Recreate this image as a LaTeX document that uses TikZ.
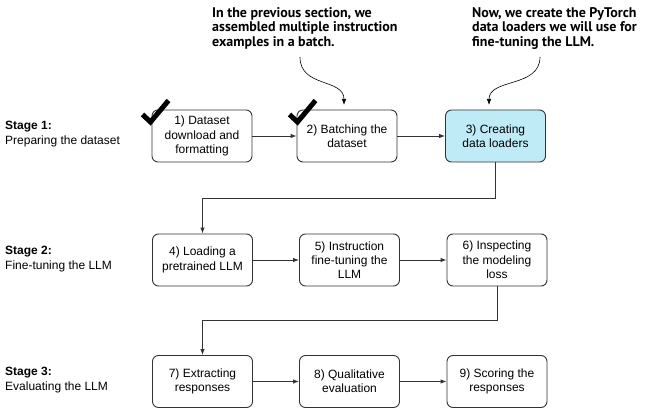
\documentclass[tikz,border=0pt]{standalone}
\usepackage{fontspec}
\setmainfont{Liberation Sans}
\newfontfamily\annotfont{PT Sans}
\usetikzlibrary{arrows.meta}
\definecolor{boxline}{HTML}{333333}
\definecolor{hilite}{HTML}{BFEBF6}
\tikzset{
  stepbox/.style={draw=boxline, line width=0.9pt, rounded corners=6pt, minimum width=100pt, minimum height=52pt, align=center, font=\fontsize{12}{14.3}\selectfont, inner sep=0pt},
  flow/.style={draw=boxline, line width=0.9pt, -{Latex[length=6pt,width=4.5pt]}},
  stagelbl/.style={anchor=west, align=left, font=\fontsize{12}{15}\selectfont, inner sep=0pt},
  annot/.style={anchor=north west, align=left, font=\annotfont\bfseries\fontsize{14}{14.5}\selectfont, inner sep=0pt},
  callout/.style={draw=black, line width=0.6pt, -{Latex[length=6pt,width=4.5pt]}},
  tick/.style={draw=black, line width=5pt, line join=miter}
}
\begin{document}
\begin{tikzpicture}[x=1pt,y=-1pt]
\useasboundingbox (0,0) rectangle (648,417);
% row 1
\node[stepbox] (b1) at (202,136) {1) Dataset\\download and\\formatting};
\node[stepbox] (b2) at (347,136) {2) Batching the\\dataset};
\node[stepbox, fill=hilite] (b3) at (495.5,136) {3) Creating\\data loaders};
% row 2
\node[stepbox] (b4) at (202.5,260) {4) Loading a\\pretrained LLM};
\node[stepbox] (b5) at (349.5,260) {5) Instruction\\fine-tuning the\\LLM};
\node[stepbox] (b6) at (497,260) {6) Inspecting\\the modeling\\loss};
% row 3
\node[stepbox] (b7) at (202.5,381.5) {7) Extracting\\responses};
\node[stepbox] (b8) at (349.5,381.5) {8) Qualitative\\evaluation};
\node[stepbox] (b9) at (497,381.5) {9) Scoring the\\responses};
% stage labels
\node[stagelbl] (s1) at (5,134.5) {\textbf{Stage 1:}\\Preparing the dataset};
\node[stagelbl] (s2) at (5,259.5) {\textbf{Stage 2:}\\Fine-tuning the LLM};
\node[stagelbl] (s3) at (5,380.5) {\textbf{Stage 3:}\\Evaluating the LLM};
% connectors
\draw[flow] (b1) -- (b2);
\draw[flow] (b2) -- (b3);
\draw[flow] (b4) -- (b5);
\draw[flow] (b5) -- (b6);
\draw[flow] (b7) -- (b8);
\draw[flow] (b8) -- (b9);
\coordinate (c1) at (b3.south |- 0,198);
\coordinate (c2) at (b4.north |- 0,198);
\draw[flow] (b3.south) -- (c1) -- (c2) -- (b4.north);
\coordinate (c3) at (b6.south |- 0,320.5);
\coordinate (c4) at (b7.north |- 0,320.5);
\draw[flow] (b6.south) -- (c3) -- (c4) -- (b7.north);
% annotations
\node[annot] (a1) at (212,7) {In the previous section, we\\assembled multiple instruction\\examples in a batch.};
\node[annot] (a2) at (472,7) {Now, we create the PyTorch\\data loaders we will use for\\fine-tuning the LLM.};
\coordinate (a1s) at (300,57);
\coordinate (a1e) at (344,105);
\draw[callout] (a1s) .. controls (300,88) and (344,78) .. (a1e);
\coordinate (a2s) at (540,57);
\coordinate (a2e) at (489,105);
\draw[callout] (a2s) .. controls (540,88) and (489,78) .. (a2e);
% check marks
\draw[tick] (142.5,114.5) -- (150.5,122) -- (168.5,100.5);
\draw[tick] (289.5,114.5) -- (297.5,122) -- (315.5,100.5);
\end{tikzpicture}
\end{document}
